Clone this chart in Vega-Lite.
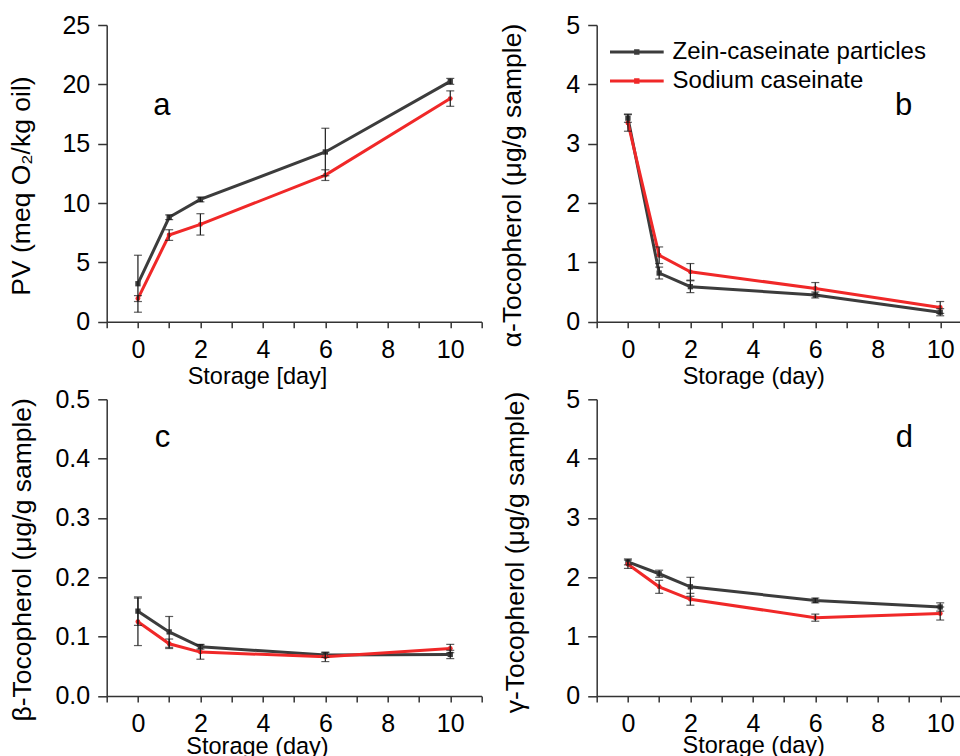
{
  "$schema": "https://vega.github.io/schema/vega-lite/v6.json",
  "padding": {"left": 8.7, "top": 13, "right": 0, "bottom": 0},
  "background": "white",
  "config": {
    "font": "Liberation Sans",
    "view": {"stroke": null},
    "axis": {"grid": false, "domainColor": "#333333", "domainWidth": 1.5, "tickColor": "#333333", "tickWidth": 1.5,
      "labelColor": "#000000", "titleColor": "#000000", "labelFont": "Liberation Sans", "titleFont": "Liberation Sans",
      "titleFontWeight": "normal", "labelFontSize": 25, "labelFlush": false, "labelOverlap": false, "titleBaseline": "alphabetic", "titleAlign": "center"},
    "axisX": {"tickSize": 6, "labelPadding": 9.5, "titleFontSize": 23.5},
    "axisY": {"tickSize": 9, "labelPadding": 8, "titleFontSize": 26.5}
  },
  "datasets": {
    "pv": [
      {"day": 0, "series": "Zein-caseinate particles", "v": 3.2, "lo": 0.8, "hi": 5.6},
      {"day": 1, "series": "Zein-caseinate particles", "v": 8.8, "lo": 8.6, "hi": 9.0},
      {"day": 2, "series": "Zein-caseinate particles", "v": 10.3, "lo": 10.1, "hi": 10.5},
      {"day": 6, "series": "Zein-caseinate particles", "v": 14.3, "lo": 12.3, "hi": 16.3},
      {"day": 10, "series": "Zein-caseinate particles", "v": 20.25, "lo": 20.0, "hi": 20.5},
      {"day": 0, "series": "Sodium caseinate", "v": 1.95, "lo": 1.7, "hi": 2.2},
      {"day": 1, "series": "Sodium caseinate", "v": 7.3, "lo": 6.85, "hi": 7.75},
      {"day": 2, "series": "Sodium caseinate", "v": 8.2, "lo": 7.3, "hi": 9.1},
      {"day": 6, "series": "Sodium caseinate", "v": 12.35, "lo": 11.9, "hi": 12.8},
      {"day": 10, "series": "Sodium caseinate", "v": 18.8, "lo": 18.15, "hi": 19.45}
    ],
    "alpha": [
      {"day": 0, "series": "Zein-caseinate particles", "v": 3.43, "lo": 3.36, "hi": 3.5},
      {"day": 1, "series": "Zein-caseinate particles", "v": 0.82, "lo": 0.72, "hi": 0.92},
      {"day": 2, "series": "Zein-caseinate particles", "v": 0.59, "lo": 0.49, "hi": 0.69},
      {"day": 6, "series": "Zein-caseinate particles", "v": 0.45, "lo": 0.4, "hi": 0.5},
      {"day": 10, "series": "Zein-caseinate particles", "v": 0.16, "lo": 0.1, "hi": 0.22},
      {"day": 0, "series": "Sodium caseinate", "v": 3.35, "lo": 3.21, "hi": 3.49},
      {"day": 1, "series": "Sodium caseinate", "v": 1.12, "lo": 0.98, "hi": 1.26},
      {"day": 2, "series": "Sodium caseinate", "v": 0.84, "lo": 0.7, "hi": 0.98},
      {"day": 6, "series": "Sodium caseinate", "v": 0.56, "lo": 0.46, "hi": 0.66},
      {"day": 10, "series": "Sodium caseinate", "v": 0.24, "lo": 0.14, "hi": 0.34}
    ],
    "beta": [
      {"day": 0, "series": "Zein-caseinate particles", "v": 0.143, "lo": 0.119, "hi": 0.167},
      {"day": 1, "series": "Zein-caseinate particles", "v": 0.108, "lo": 0.082, "hi": 0.134},
      {"day": 2, "series": "Zein-caseinate particles", "v": 0.083, "lo": 0.079, "hi": 0.087},
      {"day": 6, "series": "Zein-caseinate particles", "v": 0.069, "lo": 0.065, "hi": 0.073},
      {"day": 10, "series": "Zein-caseinate particles", "v": 0.07, "lo": 0.063, "hi": 0.077},
      {"day": 0, "series": "Sodium caseinate", "v": 0.125, "lo": 0.085, "hi": 0.165},
      {"day": 1, "series": "Sodium caseinate", "v": 0.088, "lo": 0.08, "hi": 0.096},
      {"day": 2, "series": "Sodium caseinate", "v": 0.074, "lo": 0.062, "hi": 0.086},
      {"day": 6, "series": "Sodium caseinate", "v": 0.066, "lo": 0.058, "hi": 0.074},
      {"day": 10, "series": "Sodium caseinate", "v": 0.08, "lo": 0.073, "hi": 0.087}
    ],
    "gamma": [
      {"day": 0, "series": "Zein-caseinate particles", "v": 2.26, "lo": 2.21, "hi": 2.31},
      {"day": 1, "series": "Zein-caseinate particles", "v": 2.06, "lo": 2.0, "hi": 2.12},
      {"day": 2, "series": "Zein-caseinate particles", "v": 1.84, "lo": 1.68, "hi": 2.0},
      {"day": 6, "series": "Zein-caseinate particles", "v": 1.61, "lo": 1.57, "hi": 1.65},
      {"day": 10, "series": "Zein-caseinate particles", "v": 1.5, "lo": 1.43, "hi": 1.57},
      {"day": 0, "series": "Sodium caseinate", "v": 2.22, "lo": 2.15, "hi": 2.29},
      {"day": 1, "series": "Sodium caseinate", "v": 1.84, "lo": 1.73, "hi": 1.95},
      {"day": 2, "series": "Sodium caseinate", "v": 1.63, "lo": 1.53, "hi": 1.73},
      {"day": 6, "series": "Sodium caseinate", "v": 1.32, "lo": 1.26, "hi": 1.38},
      {"day": 10, "series": "Sodium caseinate", "v": 1.39, "lo": 1.28, "hi": 1.5}
    ]
  },
  "columns": 2,
  "bounds": "flush",
  "spacing": {"row": 77.3, "column": 115},
  "resolve": {"scale": {"color": "independent"}, "legend": {"color": "independent"}},
  "concat": [
    {
      "width": 374.8, "height": 296.7,
      "data": {"name": "pv"},
      "encoding": {
        "x": {"field": "day", "type": "quantitative", "scale": {"domain": [-1, 11], "nice": false, "zero": false},
          "axis": {"values": [-1,0,1,2,3,4,5,6,7,8,9,10,11], "labelExpr": "datum.value >= 0 && datum.value <= 10 && datum.value % 2 == 0 ? datum.label : ''", "title": "Storage [day]", "titleX": 150.3, "titleY": 62.3}},
        "y": {"field": "v", "type": "quantitative", "scale": {"domain": [0, 25], "nice": false, "zero": false},
          "axis": {"values": [0,5,10,15,20,25], "title": "PV (meq O₂/kg oil)", "titleX": -76.7, "titleY": 160.5}}
      },
      "layer": [
        {"data": {"values": [{"edge": "top"}]}, "mark": {"type": "rule", "color": "#333333", "strokeWidth": 1.5}, "encoding": {"y": {"datum": 25}, "x": null}},
        {"data": {"values": [{"edge": "right"}]}, "mark": {"type": "rule", "color": "#333333", "strokeWidth": 1.5}, "encoding": {"x": {"datum": 11}, "y": null}},
        {"mark": {"type": "line", "strokeWidth": 3},
          "encoding": {"color": {"field": "series", "type": "nominal", "scale": {"domain": ["Zein-caseinate particles", "Sodium caseinate"], "range": ["#3c3c3c", "#f02828"]}, "legend": null}}},
        {"transform": [{"filter": "datum.series == 'Zein-caseinate particles'"}], "mark": {"type": "point", "shape": "square", "filled": true, "opacity": 1, "size": 28, "color": "#3c3c3c"}},
        {"transform": [{"filter": "datum.series == 'Sodium caseinate'"}], "mark": {"type": "point", "shape": "circle", "filled": true, "opacity": 1, "size": 24, "color": "#f02828"}},
        {"mark": {"type": "errorbar", "color": "#1a1a1a", "thickness": 1.2, "size": 8, "ticks": true},
          "encoding": {"y": {"field": "lo", "type": "quantitative"}, "y2": {"field": "hi"}}},
        {"transform": [{"filter": "datum.day == 0 && datum.series == 'Zein-caseinate particles'"}], "mark": {"type": "text", "fontSize": 31, "baseline": "alphabetic", "align": "center", "color": "#000000"},
          "encoding": {"x": {"datum": 0.77}, "y": {"datum": 17.41}, "text": {"value": "a"}}}
      ]
    },
    {
      "width": 364.5, "height": 296.7,
      "data": {"name": "alpha"},
      "encoding": {
        "x": {"field": "day", "type": "quantitative", "scale": {"domain": [-1, 10.672], "nice": false, "zero": false},
          "axis": {"values": [-1,0,1,2,3,4,5,6,7,8,9,10], "labelExpr": "datum.value >= 0 && datum.value <= 10 && datum.value % 2 == 0 ? datum.label : ''", "title": "Storage (day)", "titleX": 156.6, "titleY": 62.3}},
        "y": {"field": "v", "type": "quantitative", "scale": {"domain": [0, 5], "nice": false, "zero": false},
          "axis": {"values": [0,1,2,3,4,5], "title": "α-Tocopherol  (μg/g sample)", "titleX": -76.4, "titleY": 160}}
      },
      "layer": [
        {"data": {"values": [{"edge": "top"}]}, "mark": {"type": "rule", "color": "#333333", "strokeWidth": 1.5}, "encoding": {"y": {"datum": 5}, "x": null}},
        {"mark": {"type": "line", "strokeWidth": 3},
          "encoding": {"color": {"field": "series", "type": "nominal", "scale": {"domain": ["Zein-caseinate particles", "Sodium caseinate"], "range": ["#3c3c3c", "#f02828"]},
            "legend": {"orient": "top-left", "offset": 14.5, "padding": 0, "title": null, "symbolType": "M-6.85,0L20,0M5.95,-0.6L7.15,-0.6L7.15,0.6L5.95,0.6Z", "symbolSize": 16, "symbolStrokeWidth": 3, "symbolOpacity": 1, "labelFontSize": 24, "labelFont": "Liberation Sans", "labelColor": "#000000", "labelOffset": 36.9, "labelLimit": 500, "rowPadding": 5}}}},
        {"transform": [{"filter": "datum.series == 'Zein-caseinate particles'"}], "mark": {"type": "point", "shape": "square", "filled": true, "opacity": 1, "size": 28, "color": "#3c3c3c"}},
        {"transform": [{"filter": "datum.series == 'Sodium caseinate'"}], "mark": {"type": "point", "shape": "circle", "filled": true, "opacity": 1, "size": 24, "color": "#f02828"}},
        {"mark": {"type": "errorbar", "color": "#1a1a1a", "thickness": 1.2, "size": 8, "ticks": true},
          "encoding": {"y": {"field": "lo", "type": "quantitative"}, "y2": {"field": "hi"}}},
        {"transform": [{"filter": "datum.day == 0 && datum.series == 'Zein-caseinate particles'"}], "mark": {"type": "text", "fontSize": 31, "baseline": "alphabetic", "align": "center", "color": "#000000"},
          "encoding": {"x": {"datum": 8.83}, "y": {"datum": 3.48}, "text": {"value": "b"}}}
      ]
    },
    {
      "width": 374.8, "height": 296.7,
      "data": {"name": "beta"},
      "encoding": {
        "x": {"field": "day", "type": "quantitative", "scale": {"domain": [-1, 11], "nice": false, "zero": false},
          "axis": {"values": [-1,0,1,2,3,4,5,6,7,8,9,10,11], "labelExpr": "datum.value >= 0 && datum.value <= 10 && datum.value % 2 == 0 ? datum.label : ''", "title": "Storage (day)", "titleX": 150.3, "titleY": 57.3}},
        "y": {"field": "v", "type": "quantitative", "scale": {"domain": [0, 0.5], "nice": false, "zero": false},
          "axis": {"values": [0,0.1,0.2,0.3,0.4,0.5], "format": ".1f", "title": "β-Tocopherol  (μg/g sample)", "titleX": -76.4, "titleY": 160}}
      },
      "layer": [
        {"data": {"values": [{"edge": "top"}]}, "mark": {"type": "rule", "color": "#333333", "strokeWidth": 1.5}, "encoding": {"y": {"datum": 0.5}, "x": null}},
        {"data": {"values": [{"edge": "right"}]}, "mark": {"type": "rule", "color": "#333333", "strokeWidth": 1.5}, "encoding": {"x": {"datum": 11}, "y": null}},
        {"mark": {"type": "line", "strokeWidth": 3},
          "encoding": {"color": {"field": "series", "type": "nominal", "scale": {"domain": ["Zein-caseinate particles", "Sodium caseinate"], "range": ["#3c3c3c", "#f02828"]}, "legend": null}}},
        {"transform": [{"filter": "datum.series == 'Zein-caseinate particles'"}], "mark": {"type": "point", "shape": "square", "filled": true, "opacity": 1, "size": 28, "color": "#3c3c3c"}},
        {"transform": [{"filter": "datum.series == 'Sodium caseinate'"}], "mark": {"type": "point", "shape": "circle", "filled": true, "opacity": 1, "size": 24, "color": "#f02828"}},
        {"mark": {"type": "errorbar", "color": "#1a1a1a", "thickness": 1.2, "size": 8, "ticks": true},
          "encoding": {"y": {"field": "lo", "type": "quantitative"}, "y2": {"field": "hi"}}},
        {"transform": [{"filter": "datum.day == 0 && datum.series == 'Zein-caseinate particles'"}], "mark": {"type": "text", "fontSize": 31, "baseline": "alphabetic", "align": "center", "color": "#000000"},
          "encoding": {"x": {"datum": 0.785}, "y": {"datum": 0.4196}, "text": {"value": "c"}}}
      ]
    },
    {
      "width": 364.5, "height": 296.7,
      "data": {"name": "gamma"},
      "encoding": {
        "x": {"field": "day", "type": "quantitative", "scale": {"domain": [-1, 10.672], "nice": false, "zero": false},
          "axis": {"values": [-1,0,1,2,3,4,5,6,7,8,9,10], "labelExpr": "datum.value >= 0 && datum.value <= 10 && datum.value % 2 == 0 ? datum.label : ''", "title": "Storage (day)", "titleX": 156.5, "titleY": 56.3}},
        "y": {"field": "v", "type": "quantitative", "scale": {"domain": [0, 5], "nice": false, "zero": false},
          "axis": {"values": [0,1,2,3,4,5], "title": "γ-Tocopherol  (μg/g sample)", "titleX": -73, "titleY": 152.7}}
      },
      "layer": [
        {"data": {"values": [{"edge": "top"}]}, "mark": {"type": "rule", "color": "#333333", "strokeWidth": 1.5}, "encoding": {"y": {"datum": 5}, "x": null}},
        {"mark": {"type": "line", "strokeWidth": 3},
          "encoding": {"color": {"field": "series", "type": "nominal", "scale": {"domain": ["Zein-caseinate particles", "Sodium caseinate"], "range": ["#3c3c3c", "#f02828"]}, "legend": null}}},
        {"transform": [{"filter": "datum.series == 'Zein-caseinate particles'"}], "mark": {"type": "point", "shape": "square", "filled": true, "opacity": 1, "size": 28, "color": "#3c3c3c"}},
        {"transform": [{"filter": "datum.series == 'Sodium caseinate'"}], "mark": {"type": "point", "shape": "circle", "filled": true, "opacity": 1, "size": 24, "color": "#f02828"}},
        {"mark": {"type": "errorbar", "color": "#1a1a1a", "thickness": 1.2, "size": 8, "ticks": true},
          "encoding": {"y": {"field": "lo", "type": "quantitative"}, "y2": {"field": "hi"}}},
        {"transform": [{"filter": "datum.day == 0 && datum.series == 'Zein-caseinate particles'"}], "mark": {"type": "text", "fontSize": 31, "baseline": "alphabetic", "align": "center", "color": "#000000"},
          "encoding": {"x": {"datum": 8.85}, "y": {"datum": 4.196}, "text": {"value": "d"}}}
      ]
    }
  ]
}
